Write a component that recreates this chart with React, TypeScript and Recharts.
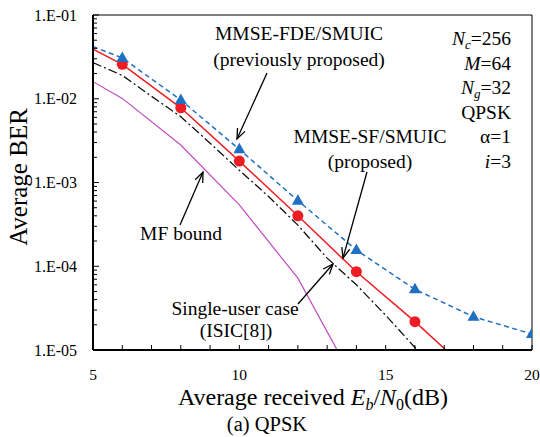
import React from "react";
import { ComposedChart, Line, XAxis, YAxis, ReferenceLine } from "recharts";

// MMSE-FDE/SMUIC (previously proposed) – blue dashed, triangles
const snrFde = [5, 6, 8, 10, 12, 14, 16, 18, 20];
const berFde = [0.042, 0.0307, 0.00966, 0.00249, 6.07e-4, 1.56e-4, 5.3e-5, 2.5e-5, 1.55e-5];

// MMSE-SF/SMUIC (proposed) – red solid, circles
const snrSf = [5, 6, 8, 10, 12, 14, 16, 18];
const berSf = [0.039, 0.0258, 0.0078, 0.0018, 4.0e-4, 8.6e-5, 2.18e-5, 5.0e-6];

// Single-user case (ISIC[8]) – black dash-dot
const snrSingle = [5, 6, 7, 8, 9, 10, 11, 12, 13, 14, 15, 16, 17];
const berSingle = [0.027, 0.019, 0.0107, 0.0061, 0.00295, 0.0014, 6.8e-4, 3.1e-4, 1.25e-4, 6.0e-5, 2.6e-5, 1.07e-5, 4.0e-6];

// MF bound – magenta solid
const snrMf = [5, 6, 8, 10, 12, 14];
const berMf = [0.016, 0.0101, 0.0028, 5.4e-4, 7.2e-5, 3.8e-6];

const xTicks = [5, 6, 7, 8, 9, 10, 11, 12, 13, 14, 15, 16, 17, 18, 19, 20];
const xTickLabels = [5, 10, 15, 20];
const decades = [1e-5, 1e-4, 1e-3, 1e-2, 1e-1];
const decadeLabels = ["1.E-05", "1.E-04", "1.E-03", "1.E-02", "1.E-01"];

const yTicks = [
  ...decades,
  ...decades.slice(0, -1).flatMap((d) => [2, 3, 4, 5, 6, 7, 8, 9].map((k) => k * d)),
].sort((a, b) => a - b);

const toRows = (xs: number[], ys: number[]) => xs.map((snr, i) => ({ snr, ber: ys[i] }));

const fdeData = toRows(snrFde, berFde);
const sfData = toRows(snrSf, berSf);
const singleData = toRows(snrSingle, berSingle);
const mfData = toRows(snrMf, berMf);

// markers only at simulated points (6 dB and up)
const fdeMarks = fdeData.filter((d) => d.snr >= 6);
const sfMarks = sfData.filter((d) => d.snr >= 6 && d.ber >= 1e-5);

const FONT = '"Liberation Serif", "Times New Roman", serif';
const serif = { fontFamily: FONT };
const BLUE = "#1f6fc2";
const RED = "#ee1d23";

const YTick = ({ x, y, payload }: any) => {
  const v = payload.value;
  const idx = decades.findIndex((d) => Math.abs(Math.log10(v) - Math.log10(d)) < 1e-6);
  const major = idx >= 0;
  return (
    <g>
      <line x1={x} y1={y} x2={x + (major ? 6 : 4)} y2={y} stroke="#000" strokeWidth={1} />
      {major && (
        <text x={x - 16} y={y + 5.5} textAnchor="end" fontSize={16} style={serif} fill="#000">
          {decadeLabels[idx]}
        </text>
      )}
    </g>
  );
};

const XTick = ({ x, y, payload }: any) => {
  const v = payload.value;
  return (
    <g>
      <line x1={x} y1={y} x2={x} y2={y - 5} stroke="#000" strokeWidth={1} />
      {xTickLabels.includes(v) && (
        <text x={x} y={y + 30} textAnchor="middle" fontSize={15.5} style={serif} fill="#000">
          {v}
        </text>
      )}
    </g>
  );
};

const Triangle = (props: any) => {
  const { cx, cy, index } = props;
  if (cx == null || cy == null) return <g key={`t-${index}`} />;
  return (
    <path
      key={`t-${index}`}
      d={`M${cx},${cy - 6.5} L${cx - 6},${cy + 4} L${cx + 6},${cy + 4} Z`}
      fill={BLUE}
    />
  );
};

const Circle = (props: any) => {
  const { cx, cy, index } = props;
  if (cx == null || cy == null) return <g key={`c-${index}`} />;
  return <circle key={`c-${index}`} cx={cx} cy={cy} r={5.5} fill={RED} />;
};

const Arrow = ({ x1, y1, x2, y2 }: { x1: number; y1: number; x2: number; y2: number }) => {
  const a = Math.atan2(y2 - y1, x2 - x1);
  const L = 11;
  const s = 0.38;
  const p1 = `${x2 - L * Math.cos(a - s)},${y2 - L * Math.sin(a - s)}`;
  const p2 = `${x2 - L * Math.cos(a + s)},${y2 - L * Math.sin(a + s)}`;
  return (
    <g stroke="#000" strokeWidth={1.3} fill="none">
      <line x1={x1} y1={y1} x2={x2} y2={y2} />
      <polyline points={`${p1} ${x2},${y2} ${p2}`} />
    </g>
  );
};

const Overlay = () => (
  <svg
    width={540}
    height={437}
    style={{ position: "absolute", left: 0, top: 0, pointerEvents: "none", fontFamily: FONT }}
    fill="#000"
  >
    <text transform="translate(27,177) rotate(-90)" textAnchor="middle" fontSize={25}>
      Average BER
    </text>

    <text x={313} y={405} textAnchor="middle" fontSize={24}>
      Average received <tspan fontStyle="italic">E</tspan>
      <tspan fontStyle="italic" fontSize={16} dy={5}>b</tspan>
      <tspan dy={-5}>/</tspan>
      <tspan fontStyle="italic">N</tspan>
      <tspan fontSize={16} dy={5}>0</tspan>
      <tspan dy={-5}>(dB)</tspan>
    </text>
    <text x={267} y={431} textAnchor="middle" fontSize={20.5}>
      (a) QPSK
    </text>

    <g fontSize={19.5} textAnchor="middle">
      <text x={299} y={40}>MMSE-FDE/SMUIC</text>
      <text x={299} y={66}>(previously proposed)</text>
      <text x={370} y={143}>MMSE-SF/SMUIC</text>
      <text x={370} y={168}>(proposed)</text>
      <text x={181} y={240}>MF bound</text>
      <text x={235} y={315}>Single-user case</text>
      <text x={236} y={337}>(ISIC[8])</text>
    </g>

    <g fontSize={19.5} textAnchor="end">
      <text x={511} y={45}>
        <tspan fontStyle="italic">N</tspan>
        <tspan fontStyle="italic" fontSize={13} dy={4}>c</tspan>
        <tspan dy={-4}>=256</tspan>
      </text>
      <text x={511} y={69.5}>
        <tspan fontStyle="italic">M</tspan>=64
      </text>
      <text x={511} y={94}>
        <tspan fontStyle="italic">N</tspan>
        <tspan fontStyle="italic" fontSize={13} dy={4}>g</tspan>
        <tspan dy={-4}>=32</tspan>
      </text>
      <text x={511} y={118.5}>QPSK</text>
      <text x={511} y={143}>α=1</text>
      <text x={511} y={167.5}>
        <tspan fontStyle="italic">i</tspan>=3
      </text>
    </g>

    <Arrow x1={267} y1={73} x2={237} y2={139} />
    <Arrow x1={367} y1={172} x2={343} y2={258} />
    <Arrow x1={180} y1={225} x2={203} y2={172} />
    <Arrow x1={298} y1={304} x2={333} y2={264} />
  </svg>
);

export default function App() {
  return (
    <div
      style={{
        position: "absolute",
        left: 0,
        top: 0,
        width: 540,
        height: 437,
        background: "#fff",
        fontFamily: FONT,
      }}
    >
      <ComposedChart width={540} height={437} margin={{ top: 15, right: 8, bottom: 0, left: 0 }}>
        <XAxis
          type="number"
          dataKey="snr"
          domain={[5, 20]}
          ticks={xTicks}
          interval={0}
          tickSize={0}
          tickMargin={0}
          tick={<XTick />}
          tickLine={false}
          height={87}
          axisLine={{ stroke: "#000", strokeWidth: 2 }}
          allowDataOverflow
        />
        <YAxis
          yAxisId="ber"
          dataKey="ber"
          scale="log"
          domain={[1e-5, 1e-1]}
          ticks={yTicks}
          interval={0}
          tickSize={0}
          tickMargin={0}
          tick={<YTick />}
          tickLine={false}
          width={93}
          axisLine={{ stroke: "#000", strokeWidth: 2 }}
          allowDataOverflow
        />
        <YAxis yAxisId="mk" dataKey="ber" scale="log" domain={[1e-5, 1e-1]} hide />

        <ReferenceLine yAxisId="ber" y={1e-1} stroke="#000" strokeWidth={1} />
        <ReferenceLine yAxisId="ber" x={20} stroke="#000" strokeWidth={1} />

        <Line
          yAxisId="ber"
          data={mfData}
          dataKey="ber"
          stroke="#c04cc0"
          strokeWidth={1.2}
          dot={false}
          activeDot={false}
          isAnimationActive={false}
        />
        <Line
          yAxisId="ber"
          data={singleData}
          dataKey="ber"
          stroke="#111"
          strokeWidth={1.3}
          strokeDasharray="9 3 2 3"
          dot={false}
          activeDot={false}
          isAnimationActive={false}
        />
        <Line
          yAxisId="ber"
          data={sfData}
          dataKey="ber"
          stroke={RED}
          strokeWidth={1.5}
          dot={false}
          activeDot={false}
          isAnimationActive={false}
        />
        <Line
          yAxisId="ber"
          data={fdeData}
          dataKey="ber"
          stroke={BLUE}
          strokeWidth={1.5}
          strokeDasharray="5 3.5"
          dot={false}
          activeDot={false}
          isAnimationActive={false}
        />
        <Line
          yAxisId="mk"
          data={sfMarks}
          dataKey="ber"
          stroke="none"
          dot={<Circle />}
          activeDot={false}
          isAnimationActive={false}
        />
        <Line
          yAxisId="mk"
          data={fdeMarks}
          dataKey="ber"
          stroke="none"
          dot={<Triangle />}
          activeDot={false}
          isAnimationActive={false}
        />
      </ComposedChart>
      <Overlay />
    </div>
  );
}
